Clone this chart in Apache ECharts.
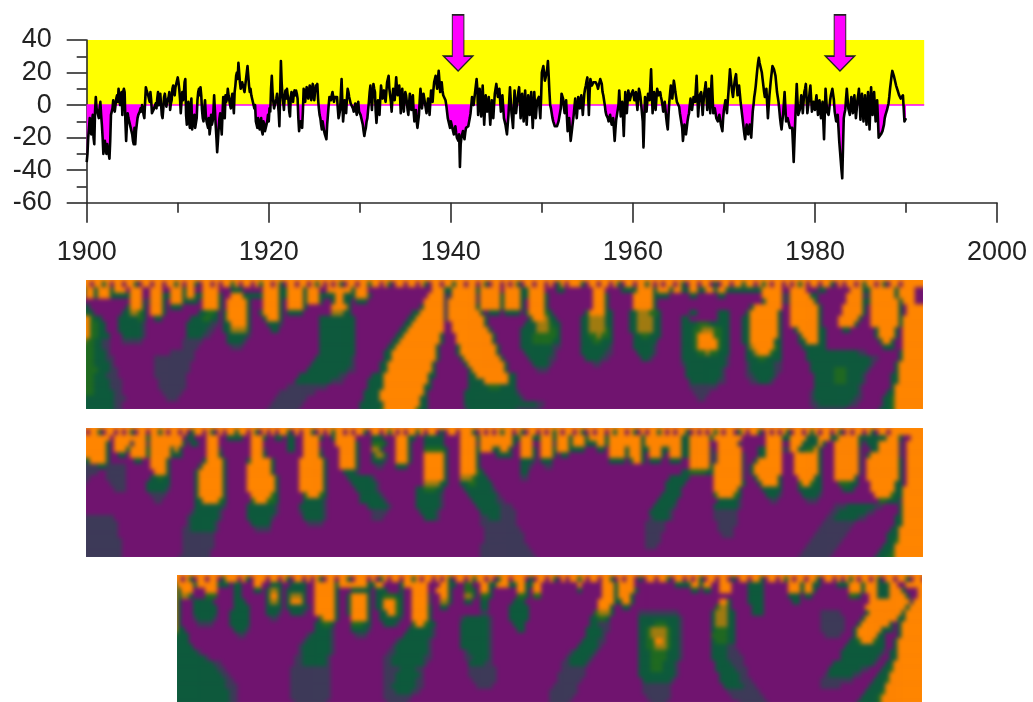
<!DOCTYPE html>
<html><head><meta charset="utf-8">
<script src="https://cdn.jsdelivr.net/npm/echarts@6/dist/echarts.min.js"></script>
<style>
html,body{margin:0;padding:0;background:#fff;width:1033px;height:702px;overflow:hidden}
#top{position:absolute;left:0;top:0;width:1033px;height:280px;filter:blur(.45px)}
.clip{position:absolute;overflow:hidden}
.inner{position:absolute;left:-4px;top:-4px;filter:blur(2px)}
</style></head><body>
<div id="top"></div>
<div class="clip" id="c1" style="left:86px;top:280px;width:837px;height:129px"></div>
<div class="clip" id="c2" style="left:86px;top:428px;width:837px;height:129px"></div>
<div class="clip" id="c3" style="left:177px;top:575px;width:745px;height:127px"></div>
<script>
// Index values: d* at the start of each sixth of a year, m* halfway through it
const d1900=[-35,-20,-8,-18,-6,-24, 5,-4,-8,2,-12,-30, -22,-30,-28,-33,-6,-2, -2,0,6,10,0,8, 8,8,-22,-5,-8,-14, -18,-24,-24,-12,-6,-4, -4,1,-8,11,10,5, 8,-5,-3,-3,-2,8, 2,6,-8,5,6,2, 5,-3,3,12,6,13];
const m1900=[-30,-14,-15,-10,-20,-4, -2,-6,-2,-6,-20,-26, -26,-24,-30,-22,-4,3, -4,4,2,4,6,-6, 10,-10,-12,-8,-12,-16, -22,-14,-16,-8,-5,-2, 0,-6,2,9,6,2, 3,-4,-2,1,4,0, 7,-6,-2,7,-1,3, 8,1,10,9,11,14];
const d1910=[17,10,-5,8,6,16, -12,2,-14,4,-15,-6, -15,3,10,11,-3,-10, 3,-10,-14,-18,-6,-10, 6,-12,-29,-14,-5,-18, 5,-8,2,10,3,-2, 7,-5,12,20,26,14, 10,12,8,16,24,12, 10,4,3,0,-12,-8, -15,-8,-18,-12,-17,-10];
const m1910=[14,4,2,3,14,-6, -4,-10,-2,-15,-8,-14, -8,8,6,6,-8,-2, -6,-12,-8,-14,-12,-4, -3,-20,-22,-8,-12,-6, -2,6,4,6,0,4, 1,8,18,16,20,10, 14,10,12,20,18,8, 6,2,-2,-10,-14,-11, -12,-16,-10,-16,-12,-6];
const d1920=[-10,-4,18,2,-3,4, 8,-13,27,6,-3,9, 10,3,-7,8,2,9, 9,4,-16,-10,-14,10, 2,11,4,12,3,13, 3,12,13,-2,-8,-15, -11,-18,-21,-6,5,3, 8,2,6,5,-8,-3, 16,-10,3,-5,10,5, 1,0,-4,1,-6,2];
const m1920=[-2,10,8,-2,2,7, -4,6,14,2,5,4, 6,-4,5,4,7,6, 7,-8,-12,-12,-4,4, 8,6,9,7,10,6, 8,10,4,-6,-12,-10, -16,-18,-12,0,5,6, 5,5,4,-2,-6,7, 2,-4,-1,4,8,3, 2,-2,-2,-3,0,-4];
const d1930=[-3,-8,-12,-19,-14,-8, 2,12,-3,13,8,-11, 3,-6,12,4,9,2, 14,18,6,-4,10,3, 17,6,12,-5,10,-4, 8,2,-6,7,-3,6, -10,-3,-14,-6,10,-2, 7,1,-5,4,-6,9, 2,14,18,10,21,8, 14,6,5,0,-8,-12];
const m1930=[-6,-10,-16,-16,-10,-3, 8,4,6,10,-4,-4, -2,4,8,7,5,8, 16,10,2,4,8,10, 10,9,6,4,2,3, 6,-3,1,3,2,-4, -7,-10,-10,3,5,3, 4,-2,0,0,2,6, 9,16,14,16,15,11, 9,5,3,-4,-10,-14];
const d1940=[-10,-14,-18,-13,-20,-22, -38,-20,-16,-21,-14,-15, -12,-5,5,0,8,16, -6,10,-7,12,-12,6, -4,5,-12,3,-8,7, 13,5,10,-4,6,-8, -12,-18,-6,11,-5,-14, 9,-5,4,11,-8,7, -10,9,-12,6,-6,8, -14,8,-8,3,5,-8];
const m1940=[-12,-16,-15,-17,-21,-18, -24,-18,-19,-17,-15,-13, -8,0,3,4,12,10, 3,2,3,0,-3,-2, 1,-4,-5,-3,0,10, 9,8,3,1,-1,-10, -15,-12,3,3,-9,-2, 2,0,8,2,-1,-2, 0,-2,-3,0,1,-4, -3,0,-2,4,-2,4];
const d1950=[20,24,15,18,27,8, -2,-8,-11,-14,-13,-10, -10,7,4,-5,3,-16, -8,-22,-14,-6,4,-8, 5,-2,6,-6,7,12, 17,-6,16,12,14,15, 13,10,14,17,8,3, -4,-7,-10,-6,-12,-8, -22,-9,-8,9,-7,2, -19,8,-5,9,3,7];
const m1950=[22,19,17,22,18,0, -5,-10,-13,-14,-12,-10, -2,6,-1,-1,-7,-12, -15,-18,-10,-1,-2,-2, 2,2,0,1,10,15, 6,8,14,13,15,14, 12,12,16,13,6,0, -6,-8,-8,-9,-10,-15, -15,-8,0,1,-3,-8, -5,1,2,6,5,8];
const d1960=[9,3,8,-3,10,5, 6,-26,5,-4,7,3, 22,-5,8,-3,10,6, 8,3,-4,2,-8,-15, 2,12,4,15,8,2, 3,-5,-5,-22,-12,-18, -10,-5,4,-3,5,2, 18,-7,6,8,-6,7, 14,-3,10,-5,18,-5, -2,-8,-10,-6,-12,-16];
const m1960=[6,6,2,4,8,6, -10,-10,0,2,5,12, 8,2,2,4,8,7, 5,0,-2,-3,-12,-6, 7,8,10,12,5,2, -1,-5,-14,-17,-15,-14, -7,0,0,1,4,10, 6,0,7,1,1,10, 6,4,3,8,6,-4, -5,-9,-8,-9,-14,-8];
const d1970=[-3,3,-5,8,22,12, 5,14,19,6,12,2, -6,-14,-21,-12,-18,-12, -20,-4,5,12,22,29, 24,20,12,5,10,-8, 6,16,24,22,18,8, 2,-8,-15,-6,8,-10, -8,-12,-15,-14,-35,-10, 13,-6,-3,6,-5,8, 13,-5,3,12,-4,2];
const m1970=[0,-1,2,15,17,8, 10,17,12,9,7,-2, -10,-18,-16,-15,-15,-16, -12,0,8,17,26,26, 22,16,8,8,1,-1, 11,20,23,20,13,5, -3,-12,-10,1,-1,-9, -10,-14,-14,-24,-22,2, 3,-5,1,1,2,10, 4,-1,8,4,-1,-1];
const d1980=[-3,6,-6,3,-8,2, -21,10,-4,-6,3,8, 11,-4,-10,-6,-22,-34, -45,-8,-3,10,-2,-6, 5,-5,6,-8,3,10, -9,7,-10,6,-12,8, -15,11,-6,8,-10,3, -20,-19,-17,-15,-8,-5, -2,5,14,21,18,14, 11,8,5,3,6,-10];
const m1980=[2,0,-2,-3,-3,-10, -5,3,-5,-2,6,10, 3,-7,-8,-14,-28,-40, -26,-5,4,4,-4,0, 0,1,-1,-3,6,1, -1,-2,-2,-3,-2,-4, -2,3,1,-1,-4,-8, -20,-18,-16,-12,-6,-3, 1,10,18,20,16,12, 9,6,4,5,-2,-9];
const lastValue=-8;
const decades=[[1900,d1900,m1900],[1910,d1910,m1910],[1920,d1920,m1920],[1930,d1930,m1930],[1940,d1940,m1940],[1950,d1950,m1950],[1960,d1960,m1960],[1970,d1970,m1970],[1980,d1980,m1980]];
const bandYears=[1900,1992];
const bandValues=[0,40];
const arrowYears=[1940.8,1982.75];
const xTicks=[1900,1920,1940,1960,1980,2000];
const yTicks=[-60,-40,-20,0,20,40];

// Wavelet panels. Each row: "startCell level startCell level ...", levels 0 purple .. 5 orange.
const speckle1="5505525055055205505505525055205505055250550525505205505505250505205505525505205505505205505525505505205505052055055050250555205505505205505525050550520550550205505525505250550505250550552050550525505205505";
const speckle2="5055205505052055055250550502550520505525505205050552050552050525505055205505250505525055020550555205050525505205505052505505205055052550520505525050552050505250550250552050505205505250550520505505205505";
const speckle3="5505205505502555052055505505205505052055055205550502505505525055050520550525505025505550205505205055250550552050550205505520550505205505502055055205505250550552055050525055052055055205505";
const panel1Rows=[
"0 2 1 5 3 2 4 5 7 2 8 5 11 0 12 5 15 0 17 5 20 0 22 5 25 2 26 5 28 0 30 5 34 0 37 2 40 0 45 5 49 2 51 5 55 2 56 5 59 0 61 5 67 2 68 5 71 0 87 5 90 2 92 5 98 2 99 5 104 0 105 5 109 2 111 5 115 0 118 2 120 0 127 5 130 0 134 2 138 5 142 2 143 5 146 2 147 5 149 2 151 5 153 2 155 5 157 2 158 5 160 2 162 2 169 5 174 0 176 5 180 0 183 2 185 0 191 5 194 2 196 5 202 2 203 5 207 0",
"0 1 1 5 3 2 4 5 7 2 8 2 12 5 15 0 17 5 20 2 22 5 25 2 26 5 28 2 30 5 34 2 35 0 37 5 40 2 44 2 45 5 49 2 51 5 55 2 56 5 59 2 61 2 63 5 65 2 68 5 71 2 72 0 86 5 90 1 92 5 98 1 99 5 104 2 105 5 109 2 111 5 115 2 116 0 127 5 130 2 131 0 137 5 142 2 143 2 146 0 151 2 153 0 158 2 160 0 169 5 174 1 176 5 181 2 183 0 190 5 194 1 196 5 202 2 203 5 207 0",
"0 0 12 5 15 1 17 5 20 2 21 0 22 5 25 2 26 2 29 0 30 5 34 2 35 0 36 5 41 2 42 0 45 5 49 2 50 0 51 5 55 2 56 5 59 2 60 0 62 2 63 5 65 2 67 0 68 2 71 0 85 5 90 1 91 5 98 1 99 5 104 2 105 5 109 2 110 0 111 5 115 2 116 0 127 5 130 2 131 0 137 5 142 2 143 0 169 2 170 5 174 1 176 5 182 2 183 0 190 5 194 2 196 5 203 2 204 5 207 0",
"0 2 2 0 11 2 12 5 15 2 16 0 17 5 20 2 21 0 22 2 25 0 30 5 34 2 35 0 36 5 41 2 42 0 45 5 49 2 50 0 51 5 55 2 56 0 62 5 66 2 67 0 84 2 85 5 90 1 91 5 98 2 99 5 104 2 105 5 109 2 110 0 111 5 115 2 116 0 127 5 130 2 131 0 137 5 142 2 143 0 166 2 167 5 174 0 176 5 183 2 184 0 189 5 194 2 195 0 196 5 203 2 204 0 205 5",
"0 3 1 2 3 0 10 2 12 4 14 3 15 2 16 0 17 5 20 2 21 0 29 2 31 3 33 2 34 0 35 2 36 5 41 2 42 0 44 2 45 5 49 2 50 0 51 2 55 0 62 4 65 2 67 0 82 2 84 5 90 1 91 5 99 2 100 0 101 2 104 0 105 2 109 0 110 2 111 5 115 3 116 2 117 0 125 2 126 5 130 2 132 0 136 2 138 4 141 3 143 2 144 0 151 2 153 0 158 2 161 0 165 2 166 5 173 2 174 0 176 5 183 2 184 0 189 5 194 2 195 0 196 5 203 2 204 0 205 5",
"0 5 2 3 3 2 5 0 9 2 14 3 15 2 16 0 18 2 20 0 27 2 30 3 32 2 34 0 35 2 36 5 41 2 42 0 45 2 46 5 49 2 50 0 59 2 68 0 81 2 83 5 90 1 91 5 100 2 101 0 111 2 112 5 115 4 116 2 118 0 124 2 126 4 130 2 132 0 136 2 138 4 142 2 144 0 149 2 151 0 158 2 161 0 164 2 166 5 173 2 174 0 176 5 183 2 184 0 188 5 193 2 194 0 196 5 203 2 204 5",
"0 5 2 3 4 2 6 0 9 2 15 1 16 0 26 2 32 1 34 0 35 2 37 5 41 2 42 0 46 2 49 1 50 0 59 2 68 0 80 2 82 5 90 0 92 5 100 2 101 0 110 2 113 4 116 3 117 2 119 0 124 2 126 4 130 2 132 0 136 2 138 4 142 2 144 0 149 2 153 3 156 2 161 0 164 2 166 5 173 2 174 0 176 5 183 2 184 0 188 5 192 2 193 0 196 5 203 2 204 5",
"0 5 2 3 4 2 6 0 9 2 15 1 16 0 26 2 31 1 33 0 35 2 37 4 41 2 42 0 47 2 49 0 59 2 68 0 79 2 81 5 90 0 92 5 101 2 102 0 109 2 113 4 116 3 118 2 119 0 124 2 126 4 130 3 131 2 132 0 136 2 138 4 142 2 144 0 149 2 152 3 154 4 157 3 159 2 161 0 164 2 166 5 173 2 174 0 177 2 178 5 183 2 185 0 189 2 191 0 197 2 198 5 202 2 203 0 204 5",
"0 5 2 3 4 2 7 0 10 2 15 1 16 0 26 2 30 1 32 0 36 2 41 1 42 0 59 2 68 0 78 2 80 5 89 2 90 0 93 5 102 2 103 0 109 2 112 3 118 2 119 0 124 2 126 3 128 4 129 3 131 2 132 0 137 2 139 3 141 2 144 0 149 2 152 3 153 5 157 3 159 2 161 0 164 2 166 5 173 2 174 0 178 2 179 5 183 2 185 0 197 2 198 5 202 2 203 0 204 5",
"0 4 1 3 3 2 5 1 7 0 10 1 15 0 25 1 30 0 36 2 40 1 41 0 59 2 68 0 77 2 79 5 89 2 90 0 93 5 102 2 103 0 109 2 112 3 117 2 119 0 124 2 127 3 129 2 132 0 137 2 143 0 149 2 152 3 153 5 158 3 159 2 161 0 164 2 166 5 172 2 174 0 178 2 180 5 183 2 185 0 198 2 199 5 201 2 202 0 204 5",
"0 3 3 2 5 1 7 0 25 1 29 0 37 1 40 0 59 2 68 0 76 2 78 5 88 2 89 0 93 2 94 5 103 2 104 0 109 2 117 1 119 0 124 2 131 1 132 0 137 2 142 1 143 0 149 2 152 3 153 5 158 3 159 2 161 0 165 2 166 4 167 5 172 3 173 2 174 0 179 2 185 0 199 2 202 0 204 5",
"0 3 3 2 6 1 7 0 22 1 28 0 59 2 68 0 75 2 77 5 88 2 89 0 93 2 94 5 103 2 104 0 110 2 117 1 118 0 124 2 130 1 132 0 138 2 142 1 143 0 149 2 153 3 155 4 156 3 158 2 161 0 165 2 167 4 168 5 171 3 172 2 174 0 180 2 193 1 195 0 203 2 204 5",
"0 3 3 2 6 1 8 0 18 1 28 0 58 2 67 1 68 0 75 2 77 5 88 2 89 0 94 2 95 5 104 2 105 0 111 2 116 1 118 0 125 2 129 1 131 0 139 2 141 1 142 0 149 2 160 1 161 0 165 2 168 3 170 2 174 0 180 2 196 1 198 0 203 2 204 5",
"0 3 3 2 7 1 8 0 18 1 27 0 57 2 67 1 68 0 74 2 76 5 87 2 88 0 95 2 96 5 105 2 106 0 112 2 116 1 117 0 127 1 129 0 149 1 150 2 160 1 161 0 165 1 166 2 172 1 174 0 181 2 196 1 197 0 202 2 203 5",
"0 3 4 2 7 1 9 0 18 1 27 0 56 2 66 1 68 0 74 2 76 5 87 2 88 0 96 2 97 5 105 2 106 0 113 1 116 0 150 2 159 1 160 0 165 1 166 2 172 1 174 0 181 2 187 3 190 2 195 1 196 0 202 2 203 5",
"0 3 3 2 6 1 9 0 18 1 26 0 54 2 64 1 66 0 72 2 75 5 86 2 88 0 96 2 98 5 106 2 108 0 150 2 159 1 160 0 165 1 167 2 172 1 173 0 182 2 187 3 190 2 194 1 195 0 201 2 203 5",
"0 3 3 2 7 1 10 0 19 1 26 0 53 2 62 1 65 0 71 2 75 5 86 2 87 0 96 2 100 5 106 2 108 0 151 2 158 1 160 0 166 1 168 2 171 1 172 0 182 2 187 3 190 2 194 1 195 0 201 2 203 5",
"0 3 3 2 7 1 10 0 19 1 26 0 51 1 61 0 71 2 75 5 85 2 87 0 96 2 101 3 104 2 108 0 151 1 158 0 182 2 193 1 194 0 201 2 202 5",
"0 3 3 2 8 1 10 0 20 1 25 0 49 1 58 0 70 2 74 5 85 2 86 0 95 2 108 1 109 0 152 1 156 0 181 1 182 2 193 1 194 0 200 2 202 5",
"0 2 8 1 11 0 21 1 24 0 48 1 56 0 70 2 74 5 84 2 86 0 95 2 109 1 110 0 153 1 155 0 181 1 182 2 192 1 194 0 199 2 201 3 202 5",
"0 2 8 1 10 0 47 1 55 0 69 2 75 5 84 2 86 0 95 2 113 1 115 0 181 1 183 2 191 1 193 0 199 2 201 3 202 5",
"0 2 8 1 10 0 46 1 54 0 69 2 74 3 75 5 83 3 84 2 86 0 95 1 96 2 108 1 114 0 182 1 190 0 198 2 201 3 202 5"
];
const panel2Rows=[
"0 5 7 0 8 5 16 2 17 5 25 0 26 2 28 0 31 5 34 0 36 2 40 0 42 5 45 2 46 0 48 2 50 0 51 2 53 0 55 5 59 2 60 0 62 2 63 5 68 0 72 2 75 0 78 5 81 2 83 0 85 2 90 0 94 5 98 2 99 5 107 2 109 5 112 2 114 5 117 2 118 5 121 2 122 5 125 2 126 5 130 2 131 5 139 2 140 5 149 2 151 5 156 2 157 5 164 0 170 5 174 2 176 5 180 2 183 5 186 2 188 5 193 2 195 2 200 5 203 2 204 0 206 5",
"0 5 6 2 7 0 8 5 12 1 13 5 16 1 17 5 25 2 26 0 27 2 29 0 31 5 34 0 42 5 45 0 51 2 53 0 55 5 59 0 63 5 68 2 69 0 72 3 75 2 76 0 78 5 81 2 82 0 85 2 90 0 94 5 98 1 99 5 107 2 108 0 109 5 112 0 114 5 117 1 118 5 121 2 122 5 125 2 128 5 130 2 131 5 139 2 140 5 149 2 151 5 156 0 158 5 163 1 164 0 170 5 174 0 176 5 179 2 183 5 184 2 185 0 187 5 193 2 194 0 195 2 198 5 203 1 204 0 205 5",
"0 5 6 2 7 0 8 5 11 2 12 5 16 2 17 5 22 2 23 5 24 2 25 0 31 5 34 1 35 0 42 5 45 1 46 0 51 2 53 0 55 5 59 1 60 0 64 5 68 2 69 0 72 4 74 2 75 0 78 5 81 2 82 0 85 3 90 2 91 0 94 5 98 2 99 5 102 2 104 5 106 2 107 0 109 5 112 2 113 0 114 5 117 2 118 5 121 2 125 0 128 2 130 0 131 5 135 2 136 5 139 2 141 5 144 2 146 5 149 2 151 5 156 1 157 0 158 5 164 0 168 2 170 5 174 1 176 5 178 2 180 3 182 5 183 2 184 0 187 5 193 1 194 0 196 2 198 5 203 1 204 0 205 5",
"0 5 6 2 7 0 9 2 11 0 12 5 16 2 17 5 22 2 25 0 31 5 34 2 35 0 42 5 45 2 46 0 55 5 59 2 60 0 64 5 68 2 69 0 72 2 73 4 75 2 76 0 78 5 81 2 82 0 85 5 90 2 91 0 94 5 98 2 99 0 103 2 107 0 109 5 112 2 113 0 114 5 117 2 118 0 119 2 121 0 131 5 135 2 136 5 139 2 140 0 141 5 144 2 145 0 146 5 149 2 151 5 156 1 158 5 164 1 165 0 168 2 170 5 174 0 177 5 183 2 184 0 187 5 193 1 194 0 195 2 196 5 203 1 204 0 205 5",
"0 2 2 5 6 2 7 0 13 2 15 0 17 5 21 2 22 0 30 2 31 5 35 2 36 0 41 2 42 5 47 2 48 0 54 5 60 2 61 0 64 5 68 2 69 0 72 2 75 1 76 0 78 5 81 2 82 0 85 5 90 2 91 0 94 5 98 2 99 0 109 2 112 1 113 0 114 2 117 0 131 2 135 0 136 2 137 5 139 2 140 0 141 2 144 0 146 2 149 0 151 5 156 1 158 5 164 1 165 0 167 2 168 5 174 0 177 5 183 2 184 0 187 5 193 1 194 0 195 5 203 2 204 0 205 5",
"0 1 4 2 6 1 11 0 17 5 21 2 22 0 29 2 30 5 35 2 36 0 41 5 47 2 48 0 54 5 60 2 61 0 64 5 68 2 69 0 73 1 75 0 78 2 81 0 85 5 90 2 91 0 94 5 98 2 99 0 109 2 111 1 112 0 115 1 117 0 151 5 156 2 157 5 164 1 165 0 166 2 167 5 174 0 177 5 183 2 184 0 187 5 193 1 194 0 195 5 203 2 204 0 205 5",
"0 1 4 0 6 1 11 0 18 5 21 2 22 0 28 2 29 5 35 2 36 0 41 5 47 2 48 0 54 5 60 2 61 0 65 2 68 1 69 0 85 5 90 2 91 0 94 5 98 3 99 2 100 0 109 2 111 0 149 2 151 3 155 2 157 5 164 1 165 0 166 2 167 5 174 0 177 5 183 2 184 0 187 5 193 1 194 0 195 5 203 2 204 0 205 5",
"0 1 2 0 6 1 11 0 17 2 19 3 20 2 22 0 28 2 29 5 35 2 36 0 41 5 48 2 49 0 54 5 60 2 61 0 66 2 72 1 73 0 85 5 90 2 91 0 94 4 97 3 98 2 101 0 109 1 111 0 146 2 151 0 157 5 164 1 165 0 167 2 168 5 173 2 174 0 178 5 182 2 184 0 187 5 192 2 193 0 195 5 203 2 204 0 205 5",
"0 1 1 0 7 1 11 0 16 2 22 0 28 2 29 5 35 2 36 0 41 5 48 2 49 0 54 5 60 2 61 0 67 2 73 1 74 0 85 4 89 2 91 0 94 2 96 3 98 2 102 0 145 2 150 0 157 5 164 2 165 0 168 2 169 5 173 2 174 0 178 3 179 5 181 3 182 2 184 0 188 3 191 2 193 0 196 5 202 2 204 0 205 5",
"0 0 8 1 11 0 16 2 21 1 22 0 28 2 29 5 35 2 36 0 41 5 48 2 49 0 54 5 60 2 61 0 68 2 73 1 74 0 83 2 85 3 88 2 90 0 95 2 102 1 103 0 145 2 149 0 157 5 163 2 164 0 169 2 174 0 178 2 184 0 189 2 192 0 196 5 202 2 204 5",
"0 0 17 1 21 0 28 2 29 5 35 2 36 0 42 5 47 3 48 2 49 0 55 3 56 5 59 3 60 2 61 0 69 2 74 1 75 0 83 2 89 1 90 0 96 2 103 1 104 0 144 2 149 0 157 3 158 5 162 3 163 2 164 0 170 2 173 1 174 0 179 2 183 1 184 0 197 5 201 3 202 2 204 5",
"0 0 18 1 20 0 28 2 30 5 34 3 35 2 36 0 42 3 43 5 46 3 48 2 49 0 55 2 60 1 61 0 69 2 75 1 76 0 83 2 89 1 90 0 97 2 103 1 105 0 143 2 148 0 158 2 163 1 164 0 171 1 173 0 180 1 183 0 198 3 200 2 203 1 204 5",
"0 0 28 2 35 1 36 0 41 2 48 1 49 0 54 2 60 1 61 0 71 2 76 1 77 0 83 2 89 1 90 0 98 2 104 1 107 0 142 2 147 1 148 0 157 2 163 1 164 0 187 1 190 2 197 1 199 0 203 2 204 5",
"0 0 27 1 28 2 34 1 35 0 41 2 48 1 49 0 54 1 55 2 60 1 61 0 72 1 76 0 84 2 88 1 89 0 99 2 104 1 108 0 141 2 146 1 147 0 157 1 163 0 186 1 188 2 195 1 197 0 203 2 204 5",
"0 1 8 0 26 1 27 2 34 1 35 0 41 2 47 1 48 0 55 2 60 1 61 0 72 1 75 0 85 2 88 1 89 0 99 1 101 2 104 1 108 0 141 1 142 2 146 1 147 0 157 1 163 0 185 1 187 2 193 1 195 0 202 2 204 5",
"0 1 9 0 26 1 27 2 33 1 34 0 42 2 47 0 56 1 60 0 99 1 108 0 140 1 145 0 158 1 163 0 184 1 192 0 202 2 204 5",
"0 1 9 0 25 1 27 2 33 1 34 0 43 1 47 0 100 1 109 0 140 1 145 0 158 1 162 0 183 1 191 0 201 2 203 5",
"0 1 9 0 25 1 33 0 100 1 110 0 140 1 144 0 159 1 162 0 182 1 190 0 200 2 203 5",
"0 1 10 0 25 1 33 0 100 1 110 0 140 1 144 0 181 1 189 0 200 2 202 3 203 5",
"0 1 10 0 25 1 33 0 99 1 111 0 140 1 143 0 180 1 188 0 199 2 202 5",
"0 1 10 0 25 1 32 0 99 1 112 0 179 1 187 0 198 2 201 3 202 5",
"0 1 10 0 24 1 32 0 99 1 113 0 178 1 186 0 197 2 200 3 202 5"
];
const panel3Rows=[
"0 2 1 5 5 2 6 5 11 2 14 0 15 2 17 0 20 5 22 0 24 2 27 0 29 2 33 0 35 5 40 2 41 5 48 2 50 5 52 0 56 2 57 5 63 0 66 5 68 2 70 0 72 3 74 0 76 5 78 2 80 5 83 2 85 5 87 2 89 5 91 0 100 5 101 0 106 5 109 2 110 5 114 0 124 2 128 5 130 2 131 5 133 0 135 5 138 0 142 2 146 0 152 5 155 2 156 5 158 2 160 0 164 2 167 5 170 2 171 5 174 2 177 5 179 0 181 5",
"0 5 1 2 2 5 5 0 8 5 11 0 15 2 17 0 20 2 22 0 23 2 24 4 26 2 27 0 28 2 33 0 35 5 40 2 41 0 44 2 49 0 50 2 53 0 56 2 57 0 59 5 63 0 65 5 68 2 69 0 72 3 74 2 75 0 76 5 78 2 79 0 85 5 87 2 88 0 89 5 91 0 100 2 101 0 106 5 109 2 110 5 114 2 115 0 128 2 130 0 131 2 133 0 135 5 138 0 142 2 146 0 152 5 155 2 156 5 158 2 159 0 167 5 170 2 171 5 174 2 177 5 180 2 181 0 184 5",
"0 5 1 2 2 4 4 2 5 0 8 3 11 0 15 2 17 0 23 2 24 5 26 2 27 0 28 2 29 4 32 2 33 0 35 5 40 2 41 0 43 2 44 5 48 2 49 0 50 2 52 3 55 2 57 0 59 5 63 1 64 0 66 5 68 2 69 0 72 4 74 2 75 0 76 3 78 2 79 0 85 3 87 2 88 0 89 3 91 0 106 5 109 2 110 5 113 2 114 0 142 2 146 0 152 2 155 0 156 2 158 0 167 3 169 2 170 0 172 5 174 2 177 5 181 2 182 0 184 5",
"0 5 1 2 2 0 5 2 10 0 15 2 18 0 23 2 24 4 26 2 27 0 28 2 29 5 32 2 33 0 35 5 40 2 41 0 43 2 44 5 48 2 49 0 50 2 52 5 55 3 56 2 57 0 59 5 63 1 64 0 66 4 68 2 69 0 72 2 74 0 76 2 78 0 84 2 87 0 105 5 109 2 111 5 113 2 114 0 135 5 137 2 138 0 142 2 146 0 153 2 155 0 172 5 182 1 183 5",
"0 5 1 2 2 0 5 2 11 0 15 2 19 0 23 2 27 0 28 2 33 1 34 0 35 5 40 2 41 0 43 2 44 5 48 2 49 0 50 2 52 5 55 3 56 2 57 0 59 5 63 2 64 0 66 2 68 0 76 2 78 0 83 2 88 0 105 5 108 2 109 0 111 2 113 0 134 3 135 4 137 2 138 0 143 2 146 0 171 5 181 2 182 5",
"0 5 1 2 2 0 5 2 11 0 14 2 19 0 23 2 26 1 27 0 29 2 32 1 33 0 35 5 40 2 41 0 43 2 44 5 48 2 49 0 51 2 53 5 55 3 56 2 57 0 59 5 63 2 64 0 76 1 78 0 83 2 88 0 104 3 105 4 108 2 109 0 115 1 125 0 133 2 134 4 137 2 139 0 143 2 146 0 160 1 165 0 171 2 172 5 180 2 181 5",
"0 5 1 2 2 0 5 1 6 2 10 1 11 0 14 2 19 0 24 1 26 0 36 3 37 5 40 2 41 0 44 5 48 2 49 0 51 2 56 1 57 0 59 5 63 2 64 0 71 1 72 2 78 1 79 0 83 2 88 0 103 2 105 3 107 2 108 0 115 2 125 1 126 0 133 2 134 4 137 2 139 0 160 1 166 0 170 2 171 5 179 2 181 5",
"0 5 1 2 2 0 6 1 10 0 14 2 19 0 35 2 37 3 39 2 40 0 44 3 47 2 49 0 52 2 55 1 56 0 59 3 60 5 62 3 63 2 65 0 71 2 78 1 79 0 84 2 87 0 103 2 105 1 108 0 115 2 119 3 122 2 125 1 126 0 133 2 134 4 137 2 139 0 160 1 166 0 169 2 170 5 177 2 178 0 179 2 180 5",
"0 5 1 2 3 0 15 2 18 1 19 0 35 2 39 1 40 0 44 2 48 1 49 0 58 2 64 1 65 0 71 2 78 1 79 0 85 2 87 0 102 2 106 1 108 0 115 2 117 3 118 4 122 3 123 2 125 1 126 0 133 2 134 3 137 2 139 0 160 1 166 0 168 2 169 5 175 2 178 0 179 2 180 5",
"0 3 1 2 4 0 16 1 18 0 33 1 34 2 39 1 40 0 45 1 48 0 57 2 64 1 65 0 71 2 78 1 79 0 102 2 106 1 107 0 115 2 117 3 118 4 122 3 123 2 125 1 126 0 133 3 137 2 139 0 161 1 165 0 168 2 169 5 174 2 176 0 179 2 180 5",
"0 2 4 0 32 1 33 2 39 1 40 0 55 1 56 2 63 1 64 0 71 2 78 1 79 0 101 2 105 1 107 0 115 2 117 3 119 5 121 4 122 3 123 2 125 1 126 0 133 2 134 3 137 2 139 0 167 2 169 3 170 5 173 3 174 2 176 0 178 2 179 5",
"0 2 5 0 31 1 32 2 39 1 40 0 54 1 55 2 63 1 64 0 71 2 78 1 79 0 100 2 105 1 106 0 115 2 117 3 119 4 122 3 123 2 125 1 126 0 133 2 137 1 139 0 166 2 176 0 178 2 179 5",
"0 2 6 1 7 0 31 1 32 2 39 1 40 0 53 1 55 2 63 1 64 0 72 1 73 2 78 1 79 0 98 1 99 2 104 1 105 0 115 2 118 3 122 2 125 1 126 0 133 2 137 1 140 0 165 2 175 1 176 0 177 2 179 5",
"0 2 8 1 9 0 30 1 32 2 38 1 39 0 52 1 54 2 62 1 64 0 72 1 74 2 78 1 79 0 97 1 98 2 103 1 104 0 115 2 118 3 122 2 125 1 126 0 133 2 137 1 141 0 165 2 174 1 175 0 177 2 179 5",
"0 2 10 1 12 0 30 1 32 2 38 1 39 0 52 1 54 2 62 1 63 0 73 2 77 1 79 0 96 1 98 2 102 1 103 0 115 2 118 3 121 2 124 1 125 0 134 2 138 1 141 0 163 2 173 1 174 0 176 2 178 5",
"0 2 11 1 13 0 29 1 39 0 52 1 56 2 60 1 62 0 73 1 80 0 96 1 102 0 115 2 118 3 121 2 124 1 125 0 134 2 139 1 142 0 162 2 170 1 172 0 175 2 177 3 178 5",
"0 2 12 1 14 0 29 1 39 0 52 1 55 2 61 1 62 0 73 1 80 0 95 1 102 0 115 2 124 1 125 0 135 2 140 1 142 0 161 1 162 2 168 1 170 0 174 2 177 5",
"0 2 13 1 15 0 29 1 39 0 52 1 55 2 60 1 62 0 74 1 80 0 95 1 101 0 116 2 123 1 124 0 135 2 140 1 143 0 160 1 168 0 173 2 176 3 177 5",
"0 2 13 1 16 0 29 1 39 0 52 1 54 2 60 1 62 0 75 1 79 0 94 1 100 0 116 1 123 0 136 2 141 1 144 0 160 1 165 0 172 2 176 5",
"0 2 14 1 16 0 29 1 39 0 52 1 55 2 59 1 61 0 93 1 100 0 116 1 123 0 137 1 145 0 171 2 175 3 176 5",
"0 2 14 1 16 0 29 1 39 0 52 1 59 0 93 1 99 0 117 1 123 0 138 1 146 0 170 2 174 3 175 5",
"0 2 14 1 16 0 30 1 38 0 53 1 58 0 93 1 98 0 118 1 122 0 140 1 147 0 169 2 174 3 175 5"
];
const levelColors=['#70146f','#3d3a58','#0d5a3c','#1f6a20','#a07c10','#ff8500'];

const xLast=bandYears[1];
const lineData=[];
decades.forEach(([start,d,m])=>d.forEach((v,i)=>{
  lineData.push([start+i/6,v]);
  lineData.push([start+(i+0.5)/6,m[i]]);
}));
lineData.push([1990,lastValue]);

const topChart=echarts.init(document.getElementById('top'),null,{renderer:'canvas'});
const zeroStop=105/280;
topChart.setOption({
  animation:false,
  backgroundColor:'transparent',
  grid:{left:86.7,top:40,width:910.3,height:162.7},
  xAxis:{type:'value',min:xTicks[0],max:xTicks[xTicks.length-1],interval:20,
    splitLine:{show:false},
    axisLine:{onZero:false,lineStyle:{color:'#2b2b2b',width:1.6}},
    axisTick:{length:20,lineStyle:{color:'#2b2b2b',width:1.6}},
    minorTick:{show:true,splitNumber:2,length:10,lineStyle:{color:'#2b2b2b',width:1.6}},
    minorSplitLine:{show:false},
    axisLabel:{color:'#222',fontFamily:'Liberation Sans',fontSize:27,margin:36,formatter:v=>String(v),showMinLabel:true,showMaxLabel:true,hideOverlap:false}},
  yAxis:{type:'value',min:yTicks[0],max:yTicks[yTicks.length-1],interval:20,
    splitLine:{show:false},
    axisLine:{show:true,onZero:false,lineStyle:{color:'#2b2b2b',width:1.6}},
    axisTick:{show:true,length:20,lineStyle:{color:'#2b2b2b',width:1.6}},
    minorTick:{show:true,splitNumber:2,length:10,lineStyle:{color:'#2b2b2b',width:1.6}},
    axisLabel:{color:'#222',fontFamily:'Liberation Sans',fontSize:27,margin:35}},
  series:[{
    type:'line',data:lineData,showSymbol:false,symbol:'none',clip:false,
    lineStyle:{color:'#000',width:2.6,join:'round'},
    areaStyle:{opacity:1,color:{type:'linear',x:0,y:0,x2:0,y2:280,global:true,colorStops:[
      {offset:0,color:'rgba(255,0,255,0)'},{offset:zeroStop,color:'rgba(255,0,255,0)'},
      {offset:zeroStop,color:'#ff00ff'},{offset:1,color:'#ff00ff'}]}},
    markArea:{silent:true,z:0,itemStyle:{color:'#ffff00',opacity:1},
      data:[[{xAxis:bandYears[0],yAxis:bandValues[0]},{xAxis:bandYears[1],yAxis:bandValues[1]}]]},
    markLine:{silent:true,z:1,symbol:'none',animation:false,label:{show:false},lineStyle:{color:'#ff00ff',width:1.6,type:'solid'},
      data:[[{xAxis:bandYears[0],yAxis:0},{xAxis:xLast,yAxis:0}]]},
    markPoint:{silent:true,symbol:'path://M9,0 L21,0 L21,42 L30,42 L15,57 L0,42 L9,42 Z',symbolSize:[29,56],symbolKeepAspect:false,
      label:{show:false},itemStyle:{color:'#ff00ff',borderColor:'#222',borderWidth:1.3},
      data:arrowYears.map(y=>({coord:[y,38.2]}))}
  }]
});

function decode(rows,speckle,cols){
  const out=[];
  const put=(r,c,v)=>out.push([c,r,v]);
  for(let c=0;c<cols;c++)put(0,c,5);
  for(let c=0;c<cols;c++)put(1,c,c<speckle.length?+speckle[c]:5);
  rows.forEach((s,i)=>{
    const t=s.trim().split(/\s+/).map(Number);
    for(let k=0;k<t.length;k+=2){
      const end=k+2<t.length?t[k+2]:cols;
      for(let c=t[k];c<end;c++)put(i+2,c,t[k+1]);
    }
  });
  return out;
}
function panel(id,rows,speckle,cols,h,w){
  const wrap=document.getElementById(id);
  const d=document.createElement('div');
  d.className='inner';d.style.width=(w+8)+'px';d.style.height=(h+8)+'px';
  wrap.appendChild(d);
  const ch=echarts.init(d);
  const xs=Array.from({length:cols},(_,i)=>i);
  const ys=Array.from({length:rows.length+2},(_,i)=>i);
  ch.setOption({
    animation:false,
    backgroundColor:levelColors[0],
    grid:{left:0,right:0,top:0,bottom:0},
    xAxis:{type:'category',data:xs,show:false},
    yAxis:{type:'category',data:ys,inverse:true,show:false},
    visualMap:{show:false,type:'continuous',min:0,max:5,inRange:{color:levelColors}},
    series:[{type:'heatmap',data:decode(rows,speckle,cols),progressive:0,silent:true,itemStyle:{borderWidth:0}}]
  });
}
panel('c1',panel1Rows,speckle1,210,129,837);
panel('c2',panel2Rows,speckle2,210,129,837);
panel('c3',panel3Rows,speckle3,186,127,745);
</script>
</body></html>
